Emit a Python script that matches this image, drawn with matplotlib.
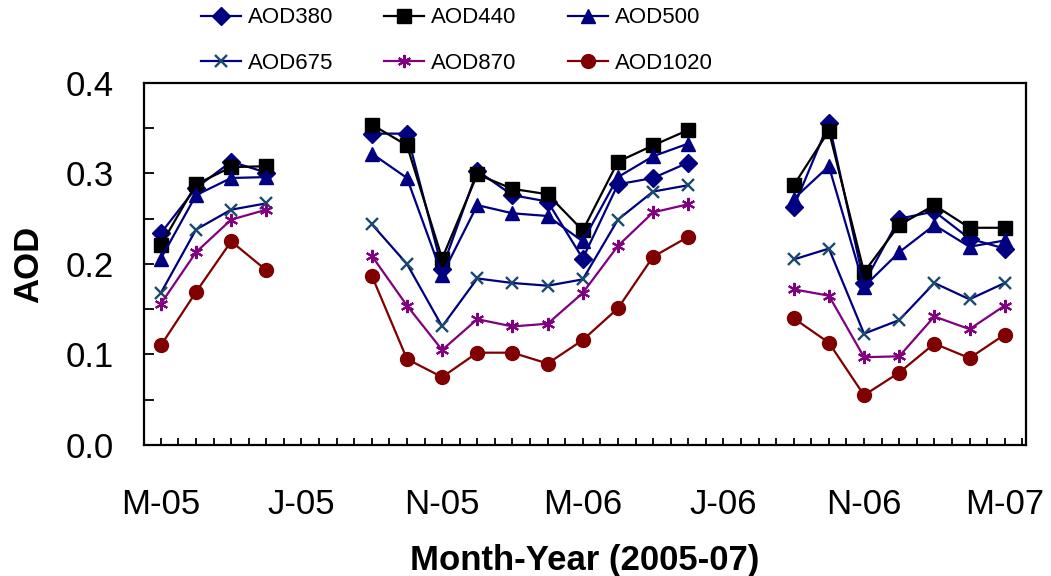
import matplotlib
matplotlib.use("Agg")
import matplotlib.pyplot as plt
import numpy as np
from matplotlib.ticker import MultipleLocator, FixedLocator

nan = np.nan

# month index: 0 = Mar 2005 ... 24 = Mar 2007
months = np.arange(25)
tick_pos = [0, 4, 8, 12, 16, 20, 24]
tick_labels = ["M-05", "J-05", "N-05", "M-06", "J-06", "N-06", "M-07"]

aod380 = [0.234, 0.284, 0.313, 0.301, nan, nan,
          0.344, 0.344, 0.195, 0.303, 0.276, 0.269, 0.206, 0.288, 0.295, 0.312, nan, nan,
          0.263, 0.356, 0.179, 0.250, 0.258, 0.228, 0.217]
aod440 = [0.221, 0.288, 0.307, 0.308, nan, nan,
          0.354, 0.331, 0.206, 0.299, 0.283, 0.277, 0.237, 0.313, 0.331, 0.348, nan, nan,
          0.287, 0.347, 0.191, 0.243, 0.265, 0.240, 0.240]
aod500 = [0.206, 0.276, 0.295, 0.296, nan, nan,
          0.322, 0.295, 0.188, 0.265, 0.256, 0.253, 0.225, 0.296, 0.319, 0.333, nan, nan,
          0.272, 0.308, 0.175, 0.213, 0.243, 0.219, 0.226]
aod675 = [0.168, 0.238, 0.260, 0.267, nan, nan,
          0.244, 0.200, 0.131, 0.184, 0.179, 0.176, 0.183, 0.249, 0.280, 0.287, nan, nan,
          0.205, 0.217, 0.123, 0.138, 0.179, 0.161, 0.179]
aod870 = [0.156, 0.213, 0.249, 0.260, nan, nan,
          0.209, 0.154, 0.105, 0.139, 0.131, 0.134, 0.168, 0.220, 0.257, 0.266, nan, nan,
          0.172, 0.165, 0.097, 0.098, 0.142, 0.128, 0.154]
aod1020 = [0.110, 0.169, 0.225, 0.193, nan, nan,
           0.187, 0.095, 0.075, 0.102, 0.102, 0.090, 0.116, 0.151, 0.208, 0.230, nan, nan,
           0.140, 0.113, 0.055, 0.080, 0.112, 0.096, 0.122]

plt.rcParams["font.family"] = ["Liberation Sans", "DejaVu Sans"]

fig = plt.figure(figsize=(10.51, 5.76), dpi=100)
ax = fig.add_axes([0.137, 0.2274, 0.839, 0.6286])

lw = 1.6
l380, = ax.plot(months, aod380, color="#000080", lw=lw, marker="D", ms=9, label="AOD380")
l440, = ax.plot(months, aod440, color="black", lw=lw, marker="s", ms=10, label="AOD440")
l500, = ax.plot(months, aod500, color="#000080", lw=lw, marker="^", ms=10.5, label="AOD500")
l675, = ax.plot(months, aod675, color="#000080", lw=lw, marker="x", ms=8.5, mew=1.7,
                mec="#1a4a6e", label="AOD675")
l870, = ax.plot(months, aod870, color="#800080", lw=lw, marker=(6, 2, 0), ms=9.5, mew=1.5,
                label="AOD870")
l1020, = ax.plot(months, aod1020, color="#800000", lw=lw, marker="o", ms=10, label="AOD1020")

ax.set_xlim(-0.48, 24.6)
ax.set_ylim(0, 0.4)
ax.yaxis.set_major_locator(MultipleLocator(0.1))
ax.yaxis.set_minor_locator(MultipleLocator(0.05))
ax.set_yticklabels([f"{v:.1f}" for v in ax.get_yticks()])
ax.xaxis.set_major_locator(FixedLocator(tick_pos))
ax.xaxis.set_minor_locator(MultipleLocator(0.5))
ax.set_xticklabels(tick_labels)

ax.tick_params(axis="y", which="both", direction="in", length=7, width=1.3,
               labelsize=25, pad=22)
ax.tick_params(axis="x", which="both", direction="in", length=5, width=1.3,
               labelsize=25, pad=31)
for s in ax.spines.values():
    s.set_linewidth(1.6)

ax.set_xlabel("Month-Year (2005-07)", fontsize=25, fontweight="bold")
ax.set_ylabel("AOD", fontsize=25, fontweight="bold")
ax.xaxis.set_label_coords(0.5, -0.272)
ax.yaxis.set_label_coords(-0.112, 0.5)

# legend is filled column by column, so order handles to read row-wise
handles = [l380, l675, l440, l870, l500, l1020]
fig.legend(handles=handles, labels=[h.get_label() for h in handles],
           loc="upper left", bbox_to_anchor=(185 / 1051, 1.014), ncol=3,
           frameon=False, handlelength=1.8, handletextpad=0.32, columnspacing=2.3,
           labelspacing=1.1, borderpad=0.2, prop={"size": 16})

fig.savefig("out.png", dpi=100)
